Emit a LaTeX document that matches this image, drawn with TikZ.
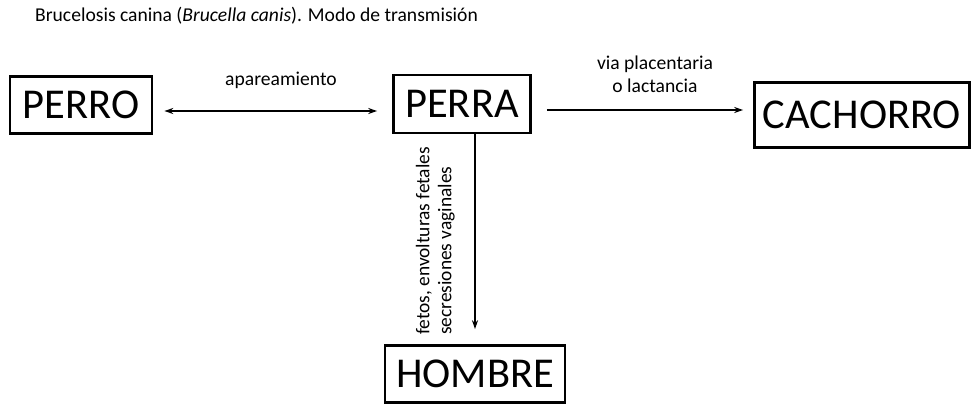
\documentclass[tikz,border=0pt]{standalone}
\usepackage{fontspec}
\setmainfont{Carlito}
\usetikzlibrary{arrows.meta,positioning,calc}
\tikzstyle{animal}=[draw,line width=2.6pt,inner sep=0pt,font=\fontsize{42.5}{42.5}\selectfont]
\tikzstyle{via}=[line width=1.4pt,-{Stealth[length=9pt,width=6pt]}]
\tikzstyle{rotulo}=[font=\fontsize{19.6}{23}\selectfont,inner sep=0pt]

\begin{document}
\begin{tikzpicture}[x=1pt,y=-1pt]
\useasboundingbox (0,0) rectangle (975,404);
\node [anchor=west,font=\fontsize{19.6}{22}\selectfont,inner sep=0pt] (titulo) at (35,16)
  {Brucelosis canina (\textit{Brucella canis}). Modo de transmisión};
\node [animal,minimum width=142pt,minimum height=57pt] (perro) at (81,105) {PERRO};
\node [animal,minimum width=137pt,minimum height=58pt] (perra) at (462,104) {PERRA};
\node [animal,minimum width=215pt,minimum height=65pt] (cachorro) at (862,115) {CACHORRO};
\node [animal,minimum width=180pt,minimum height=57pt] (hombre) at (475,374) {HOMBRE};
% conexiones
\draw [via,{Stealth[length=9pt,width=6pt]}-{Stealth[length=9pt,width=6pt]},shorten <=11pt,shorten >=15pt]
  ([yshift=-7pt]perro.east |- perra.east) -- ([yshift=-7pt]perra.west);
\draw [via,shorten <=15pt,shorten >=10pt]
  ([yshift=-6pt]perra.east) -- ([yshift=-6pt]perra.east -| cachorro.west);
\draw [via,shorten >=15pt] (perra.south -| hombre.north) -- (hombre.north);
% etiquetas
\node [rotulo] (apar) at (281,80) {apareamiento};
\node [rotulo,align=center] (placenta) at (655,74) {via placentaria\\o lactancia};
\node [rotulo,font=\fontsize{19.4}{22}\selectfont,align=left,rotate=90,anchor=south west] (fetos) at (455,335)
  {fetos, envolturas fetales\\secresiones vaginales};
\end{tikzpicture}
\end{document}
